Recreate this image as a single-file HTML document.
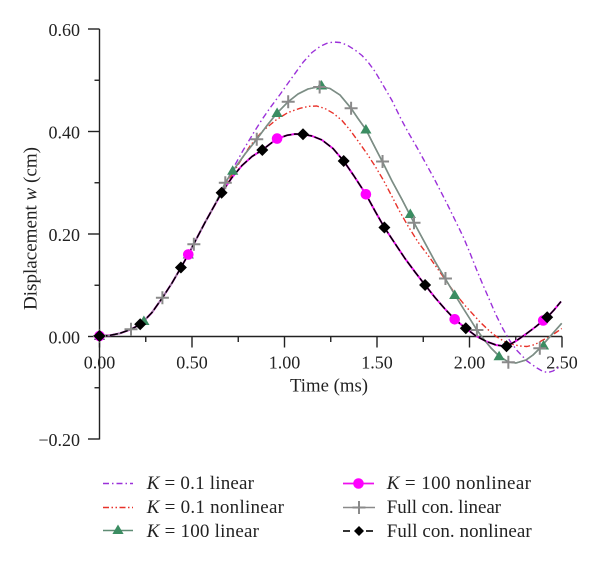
<!DOCTYPE html>
<html><head><meta charset="utf-8"><style>
html,body{margin:0;padding:0;background:#fff;}
svg{display:block;}
text{font-family:"Liberation Serif",serif;fill:#222;}
</style></head><body>
<svg width="600" height="564" viewBox="0 0 600 564" xmlns="http://www.w3.org/2000/svg">
<defs>
<polygon id="dia" points="0,-6 6,0 0,6 -6,0" fill="#000"/>
<circle id="cir" r="5.3" fill="#f0f"/>
<polygon id="tri" points="0,-5.5 5.6,4 -5.6,4" fill="#3b8d62"/>
<path id="crs" d="M-6.5,0H6.5M0,-6.5V6.5" stroke="#8a8a8a" stroke-width="2" fill="none"/>
</defs>
<rect width="600" height="564" fill="#fff"/>

<!-- axes -->
<g stroke="#222" stroke-width="1.4" fill="none">
<line x1="99.5" y1="29" x2="99.5" y2="439.5"/>
<line x1="99.5" y1="336.5" x2="562" y2="336.5"/>
<!-- y major -->
<line x1="88" y1="29" x2="99.5" y2="29"/>
<line x1="88" y1="131.5" x2="99.5" y2="131.5"/>
<line x1="88" y1="234" x2="99.5" y2="234"/>
<line x1="88" y1="336.5" x2="99.5" y2="336.5"/>
<line x1="88" y1="439" x2="99.5" y2="439"/>
<!-- y minor -->
<line x1="94.5" y1="80.25" x2="99.5" y2="80.25"/>
<line x1="94.5" y1="182.75" x2="99.5" y2="182.75"/>
<line x1="94.5" y1="285.25" x2="99.5" y2="285.25"/>
<line x1="94.5" y1="387.75" x2="99.5" y2="387.75"/>
<!-- x major -->
<line x1="99.5" y1="336.5" x2="99.5" y2="347.5"/>
<line x1="192" y1="336.5" x2="192" y2="347.5"/>
<line x1="284.5" y1="336.5" x2="284.5" y2="347.5"/>
<line x1="377" y1="336.5" x2="377" y2="347.5"/>
<line x1="469.5" y1="336.5" x2="469.5" y2="347.5"/>
<line x1="562" y1="336.5" x2="562" y2="347.5"/>
<!-- x minor -->
<line x1="145.75" y1="336.5" x2="145.75" y2="342"/>
<line x1="238.25" y1="336.5" x2="238.25" y2="342"/>
<line x1="330.75" y1="336.5" x2="330.75" y2="342"/>
<line x1="423.25" y1="336.5" x2="423.25" y2="342"/>
<line x1="515.75" y1="336.5" x2="515.75" y2="342"/>
</g>

<!-- tick labels -->
<g font-size="18" text-anchor="end">
<text x="80" y="36">0.60</text>
<text x="80" y="138.5">0.40</text>
<text x="80" y="241">0.20</text>
<text x="80" y="343.5">0.00</text>
<text x="80" y="446">−0.20</text>
</g>
<g font-size="18" text-anchor="middle">
<text x="99.5" y="368.5">0.00</text>
<text x="192" y="368.5">0.50</text>
<text x="284.5" y="368.5">1.00</text>
<text x="377" y="368.5">1.50</text>
<text x="469.5" y="368.5">2.00</text>
<text x="562" y="368.5">2.50</text>
</g>
<text x="290" y="391.5" font-size="19" textLength="78" lengthAdjust="spacingAndGlyphs">Time (ms)</text>
<text transform="translate(36.5,228.5) rotate(-90)" font-size="19" text-anchor="middle" textLength="163" lengthAdjust="spacingAndGlyphs">Displacement <tspan font-style="italic">w</tspan> (cm)</text>

<!-- curves -->
<g fill="none" stroke-linejoin="round">
<!-- K=0.1 linear purple -->
<polyline stroke="#9b30d9" stroke-width="1.4" stroke-dasharray="6,3,1.5,3" points="99.5,336 110,335.3 120,333.3 131,329.3 141,324 152,312.5 162.4,297.8 172,283 181,267.5 188.3,254.5 194,243.5 205,222.5 215,204.5 225,184 233.3,168 243,150.5 253.3,133.3 262,119.5 270,108 280,94.5 291,79 303.3,62 312,52.5 320,46.5 327,43.3 333.3,42 340,42.5 347,45 355,50 362,55.5 368,62 375,71.5 383,85 392,100.5 400,117 408,132 416.7,147 425,162 433.3,177 440,190 446.7,203 455,220 463.3,237 470,253 476.7,270 483,285 490,301 496,315 503,329 510,341 517,350.5 527,361 537,368 543,371.5 548,372.5 553,371 557,368.5 561,366"/>
<!-- K=0.1 nonlinear red -->
<polyline stroke="#e8322a" stroke-width="1.4" stroke-dasharray="6,2.5,1.5,2.5,1.5,2.5" points="99.5,336 110,335.3 120,333.3 131,329.3 141,324 152,312.5 162.4,297.8 172,283 181,267.5 188.3,254.5 194,243.5 205,222.5 215,205 225,187 233,173 242,158.5 250,146 262,131.5 276,120 288,112.5 300,108.3 309,106.3 316.7,106 325,108.5 333.3,113.3 342,120.5 350,130 358,141 366.7,153.3 375,166 383.3,180 392,196.5 400,212 408,226 418,242 430,258 442,275 453.3,291 465,305.5 480,322 490,331.5 497,337 505,341.8 513,344.5 520,346 527,346.5 535,344.5 542,340.5 550,336.5 556,332.5 561.7,328.5"/>
<!-- K=100 linear green -->
<polyline stroke="#5f8c74" stroke-width="1.6" points="99.5,336 110,335.3 120,333.3 131,329.3 141,324 152,312.5 162.4,297.8 172,283 181,267.5 188.3,254.5 194,243.5 205,222.5 215,204.5 225.3,182.7 232.7,171 245,154 256.75,139.3 267,125.5 277.1,113 288.2,101.7 298,94 308,89 319.65,86.5 330,88.5 340,95 351.1,108.3 358,118.5 365.9,129.5 373,143.5 382.55,162 392,181 402,199.5 414,222.7 425,243 435,261.5 445.45,279 454.7,294.5 463,308 470,319 476.9,330 484,339.5 491,348 499.1,356 508.35,362 516,363 526,360 533,355 539.8,348.3 547,340 554,332 561.7,323.3"/>
<!-- K=100 nonlinear magenta -->
<polyline stroke="#ee10ee" stroke-width="2" points="99.5,336 110,335.3 120,333.3 131,329.3 141,324 152,312.5 162.4,297.8 172,283 181,267.5 188.3,254.5 194,243.5 205,222.5 215,204.5 221.6,192.7 232,177.5 242,165.5 252,156.5 262.3,150 270,144 277.1,138.8 287,135.3 295,134 303,134.3 312,136 322,140 333,148.5 343.7,161 354,176 365.9,194.3 375,211 384.4,227.5 395,243.5 405,258.5 415,272 425.1,285 435,297.5 445,309 454.7,319.3 465.8,328.3 476,336 486,341.3 496,345 506.5,346.5 516,341 526,334 536,326.5 547.2,317.3 554,310 561,301.5"/>
<!-- Full con linear grey -->
<polyline stroke="#7f8c86" stroke-width="1.4" points="99.5,336 110,335.3 120,333.3 131,329.3 141,324 152,312.5 162.4,297.8 172,283 181,267.5 188.3,254.5 194,243.5 205,222.5 215,204.5 225.3,182.7 232.7,171 245,154 256.75,139.3 267,125.5 277.1,113 288.2,101.7 298,94 308,89 319.65,86.5 330,88.5 340,95 351.1,108.3 358,118.5 365.9,129.5 373,143.5 382.55,162 392,181 402,199.5 414,222.7 425,243 435,261.5 445.45,279 454.7,294.5 463,308 470,319 476.9,330 484,339.5 491,348 499.1,356 508.35,362 516,363 526,360 533,355 539.8,348.3 547,340 554,332 561.7,323.3"/>
<!-- Full con nonlinear black -->
<polyline stroke="#000" stroke-width="1.5" stroke-dasharray="8,2.5" points="99.5,336 110,335.3 120,333.3 131,329.3 141,324 152,312.5 162.4,297.8 172,283 181,267.5 188.3,254.5 194,243.5 205,222.5 215,204.5 221.6,192.7 232,177.5 242,165.5 252,156.5 262.3,150 270,144 277.1,138.8 287,135.3 295,134 303,134.3 312,136 322,140 333,148.5 343.7,161 354,176 365.9,194.3 375,211 384.4,227.5 395,243.5 405,258.5 415,272 425.1,285 435,297.5 445,309 454.7,319.3 465.8,328.3 476,336 486,341.3 496,345 506.5,346.5 516,341 526,334 536,326.5 547.2,317.3 554,310 561,301.5"/>
</g>

<!-- markers: triangles -->
<use href="#tri" x="99.5" y="336"/>
<use href="#tri" x="143.9" y="321"/>
<use href="#tri" x="188.3" y="254.5"/>
<use href="#tri" x="232.7" y="170.7"/>
<use href="#tri" x="277.1" y="113"/>
<use href="#tri" x="321.5" y="85.5"/>
<use href="#tri" x="365.9" y="129.5"/>
<use href="#tri" x="410.3" y="214"/>
<use href="#tri" x="454.7" y="295"/>
<use href="#tri" x="499.1" y="356.3"/>
<use href="#tri" x="543.5" y="345.5"/>
<!-- circles -->
<use href="#cir" x="99.5" y="336"/>
<use href="#cir" x="188.3" y="254.5"/>
<use href="#cir" x="277.1" y="138.6"/>
<use href="#cir" x="365.9" y="194.3"/>
<use href="#cir" x="454.7" y="319.3"/>
<use href="#cir" x="543.2" y="320.5"/>
<!-- crosses -->
<use href="#crs" x="99.5" y="336"/>
<use href="#crs" x="131" y="329.3"/>
<use href="#crs" x="162.4" y="297.7"/>
<use href="#crs" x="193.85" y="244.3"/>
<use href="#crs" x="225.3" y="182.7"/>
<use href="#crs" x="256.75" y="139.3"/>
<use href="#crs" x="288.2" y="101.7"/>
<use href="#crs" x="319.65" y="87"/>
<use href="#crs" x="351.1" y="108.3"/>
<use href="#crs" x="382.55" y="161.5"/>
<use href="#crs" x="414" y="222.7"/>
<use href="#crs" x="445.45" y="278.5"/>
<use href="#crs" x="476.9" y="330"/>
<use href="#crs" x="508.35" y="362.3"/>
<use href="#crs" x="539.8" y="348.3"/>
<!-- diamonds -->
<use href="#dia" x="99.5" y="336"/>
<use href="#dia" x="140.2" y="324.3"/>
<use href="#dia" x="180.9" y="267.5"/>
<use href="#dia" x="221.6" y="192.7"/>
<use href="#dia" x="262.3" y="150"/>
<use href="#dia" x="303" y="134.3"/>
<use href="#dia" x="343.7" y="161"/>
<use href="#dia" x="384.4" y="227.5"/>
<use href="#dia" x="425.1" y="285"/>
<use href="#dia" x="465.8" y="328.3"/>
<use href="#dia" x="506.5" y="346.3"/>
<use href="#dia" x="547.2" y="317.3"/>

<!-- legend -->
<g fill="none">
<line x1="103" y1="483.5" x2="133" y2="483.5" stroke="#9b30d9" stroke-width="1.4" stroke-dasharray="6,3,1.5,3"/>
<line x1="103" y1="507.5" x2="133" y2="507.5" stroke="#e8322a" stroke-width="1.4" stroke-dasharray="6,2.5,1.5,2.5,1.5,2.5"/>
<line x1="103" y1="530.5" x2="133" y2="530.5" stroke="#5f8c74" stroke-width="1.6"/>
<line x1="343" y1="483.5" x2="374" y2="483.5" stroke="#ee10ee" stroke-width="1.8"/>
<line x1="343" y1="507.5" x2="375" y2="507.5" stroke="#8a8a8a" stroke-width="1.6"/>
<line x1="343" y1="531" x2="350" y2="531" stroke="#000" stroke-width="1.6"/>
<line x1="366" y1="531" x2="373" y2="531" stroke="#000" stroke-width="1.6"/>
</g>
<use href="#tri" x="118" y="530"/>
<use href="#cir" x="358.5" y="483.5"/>
<use href="#crs" x="359" y="507.5"/>
<polygon points="359,526 364,531 359,536 354,531" fill="#000"/>

<g font-size="19">
<text x="146.7" y="489" textLength="107.3"><tspan font-style="italic">K</tspan> = 0.1 linear</text>
<text x="146.7" y="513" textLength="137.3"><tspan font-style="italic">K</tspan> = 0.1 nonlinear</text>
<text x="146.7" y="537" textLength="112.3"><tspan font-style="italic">K</tspan> = 100 linear</text>
<text x="386.7" y="489" textLength="144.3"><tspan font-style="italic">K</tspan> = 100 nonlinear</text>
<text x="386.7" y="513" textLength="114.3">Full con. linear</text>
<text x="386.7" y="537" textLength="145">Full con. nonlinear</text>
</g>
</svg>
</body></html>
